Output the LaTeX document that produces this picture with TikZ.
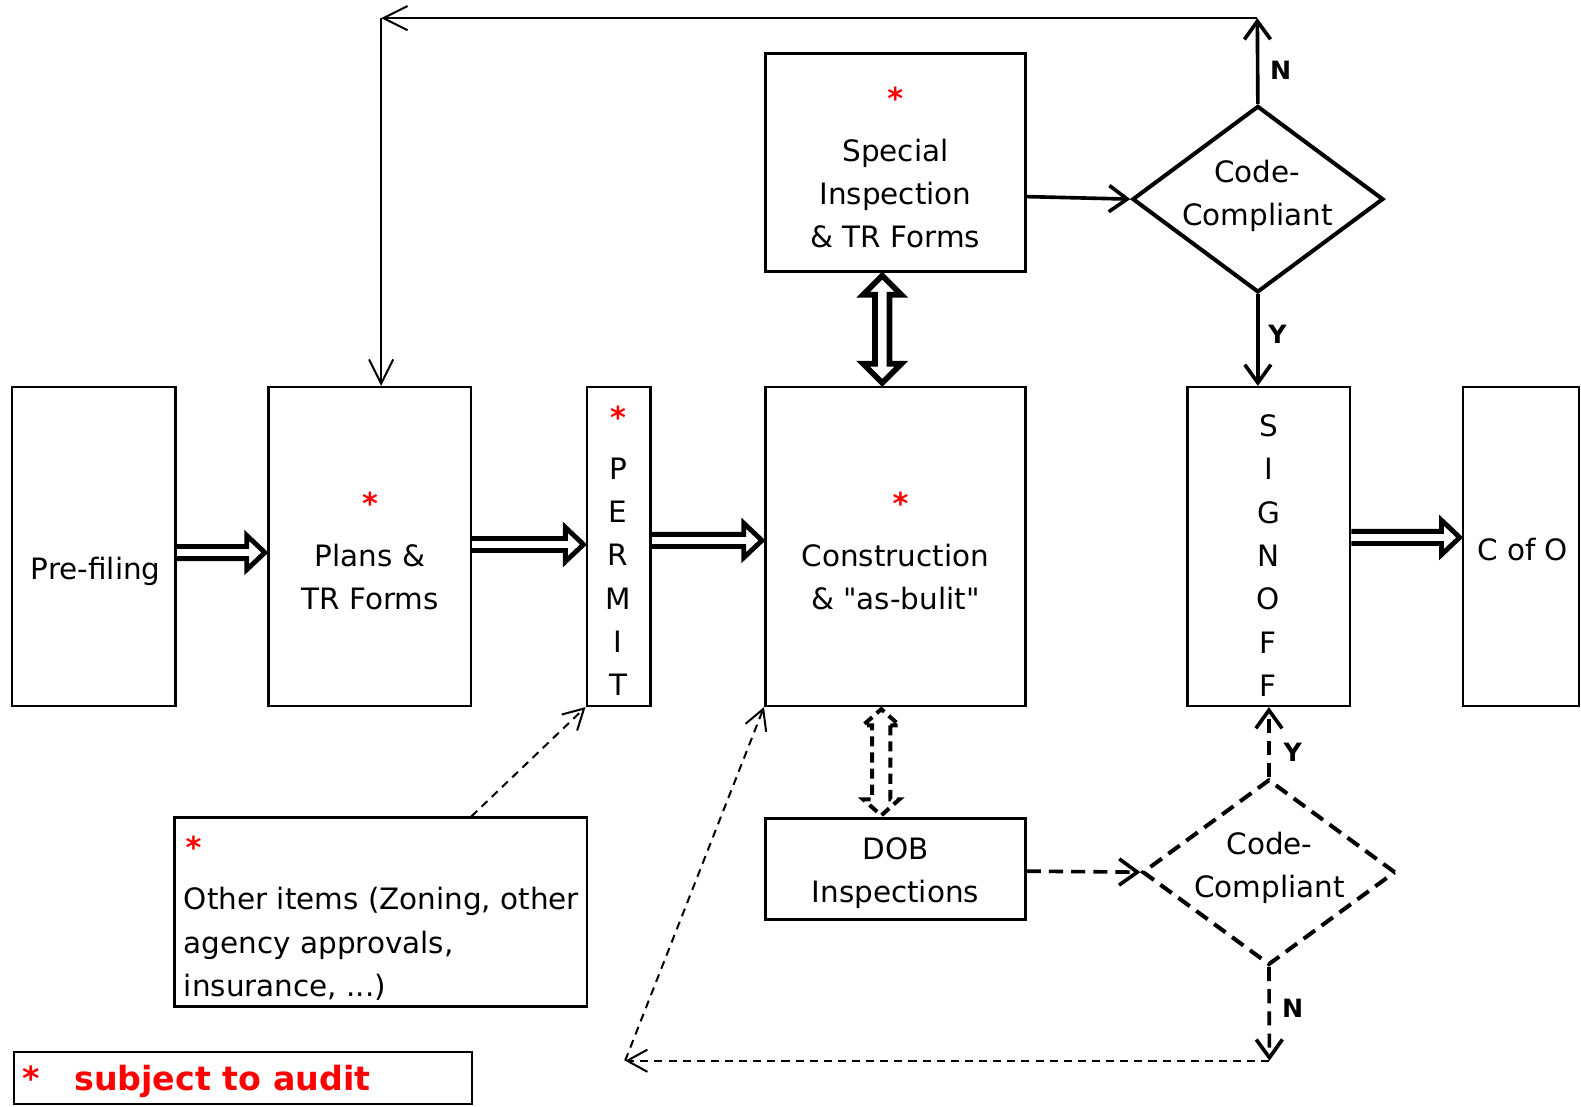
\documentclass[tikz,border=0pt]{standalone}
\usepackage{fontspec}
\setmainfont{DejaVu Sans}
\usetikzlibrary{arrows.meta,shapes.geometric,calc}
\begin{document}
\begin{tikzpicture}[x=0.5pt,y=-0.5pt,
  box/.style={draw, line width=1.3pt, inner sep=0pt},
  txt/.style={font=\fontsize{14.6}{21.5}\selectfont, align=center, inner sep=0pt},
  star/.style={font=\fontsize{15}{15}\selectfont\bfseries, text=red, inner sep=0pt},
  lab/.style={font=\fontsize{12.5}{12.5}\selectfont\bfseries, inner sep=0pt},
  thk/.style={line width=1.8pt, -{Straight Barb[length=9pt,width=13pt]}},
  thn/.style={line width=1pt, -{Straight Barb[length=12pt,width=12pt]}},
  thkdash/.style={line width=1.8pt, dash pattern=on 7pt off 4pt, -{Straight Barb[length=9pt,width=13pt]}},
  thndash/.style={line width=1pt, dash pattern=on 4pt off 3pt, -{Straight Barb[length=10pt,width=11pt]}},
  dia/.style={draw, diamond, inner sep=0pt, line width=2pt},
  bsv/.store in=\bsv, bhv/.store in=\bhv, blv/.store in=\bLv,
  bsv=3pt, bhv=8.5pt, blv=9pt,
  barrow/.style={line join=miter, line width=2.4pt, to path={
    let \p1=(\tikztostart), \p2=(\tikztotarget), \n1={atan2(\y2-\y1,\x2-\x1)} in
    ([shift={(\n1+90:\bsv)}]\p1)
    -- ([shift={(\n1+180:\bLv)},shift={(\n1+90:\bsv)}]\p2)
    -- ([shift={(\n1+180:\bLv)},shift={(\n1+90:\bhv)}]\p2)
    -- (\p2)
    -- ([shift={(\n1+180:\bLv)},shift={(\n1-90:\bhv)}]\p2)
    -- ([shift={(\n1+180:\bLv)},shift={(\n1-90:\bsv)}]\p2)
    -- ([shift={(\n1-90:\bsv)}]\p1)
  }},
  barrowtwo/.style={line join=miter, to path={
    let \p1=(\tikztostart), \p2=(\tikztotarget), \n1={atan2(\y2-\y1,\x2-\x1)} in
    ([shift={(\n1:\bLv)},shift={(\n1+90:\bsv)}]\p1)
    -- ([shift={(\n1+180:\bLv)},shift={(\n1+90:\bsv)}]\p2)
    -- ([shift={(\n1+180:\bLv)},shift={(\n1+90:\bhv)}]\p2)
    -- (\p2)
    -- ([shift={(\n1+180:\bLv)},shift={(\n1-90:\bhv)}]\p2)
    -- ([shift={(\n1+180:\bLv)},shift={(\n1-90:\bsv)}]\p2)
    -- ([shift={(\n1:\bLv)},shift={(\n1-90:\bsv)}]\p1)
    -- ([shift={(\n1:\bLv)},shift={(\n1-90:\bhv)}]\p1)
    -- (\p1)
    -- ([shift={(\n1:\bLv)},shift={(\n1+90:\bhv)}]\p1)
    -- cycle
  }}
]
\useasboundingbox (0,0) rectangle (1568,1097);

% boxes
\node[box, minimum width=81pt, minimum height=158pt] (pre) at (93,542) {};
\node[box, minimum width=100.5pt, minimum height=158pt] (plans) at (366.5,542) {};
\node[box, minimum width=31.5pt, minimum height=158pt] (permit) at (613.5,542) {};
\node[box, minimum width=129pt, minimum height=158pt] (cons) at (888,542) {};
\node[box, minimum width=129pt, minimum height=108pt] (special) at (888,161) {};
\node[box, minimum width=80.5pt, minimum height=158pt] (signoff) at (1258.5,542) {};
\node[box, minimum width=57.5pt, minimum height=158pt] (cofo) at (1508.5,542) {};
\node[box, minimum width=129pt, minimum height=50pt] (dob) at (888,862) {};
\node[box, minimum width=204.5pt, minimum height=93.5pt] (other) at (377.5,904.5) {};
\node[box, line width=1pt, minimum width=227pt, minimum height=26pt] (legend) at (241,1069) {};

% diamonds
\node[dia, minimum width=124.5pt, minimum height=92.5pt] (dT) at (1247.5,197.5) {};
\node[dia, dash pattern=on 7pt off 4pt, minimum width=125.5pt, minimum height=92pt] (dB) at (1258.5,865) {};

% texts
\node[txt] (tpre) at (95,567) {Pre-filing};
\node[star] (splans) at (367,499) {*};
\node[txt] (tplans) at (367,572) {Plans \&\\TR Forms};
\node[star] (spermit) at (613,414) {*};
\node[txt] (tpermit) at (613,572) {P\\E\\R\\M\\I\\T};
\node[star] (scons) at (893,499) {*};
\node[txt] (tcons) at (888,572) {Construction\\\& \textquotedbl as-bulit\textquotedbl};
\node[star] (sspecial) at (888,97) {*};
\node[txt] (tspecial) at (888,192) {Special\\Inspection\\\& TR Forms};
\node[txt] (tdT) at (1247,194) {Code-\\Compliant};
\node[txt] (tsign) at (1258,551) {S\\I\\G\\N\\O\\F\\F};
\node[txt] (tcofo) at (1510,545) {C of O};
\node[txt] (tdob) at (888,866) {DOB\\Inspections};
\node[txt] (tdB) at (1259,861) {Code-\\Compliant};
\node[star] (sother) at (192,840) {*};
\node[txt, align=left, anchor=west] (tother) at (182,936) {Other items (Zoning, other\\agency approvals,\\insurance, ...)};
\node[font=\fontsize{16.5}{16.5}\selectfont\bfseries, text=red, inner sep=0pt, anchor=west] (tlegend) at (22,1073) {*\hspace{17pt}subject to audit};

% labels
\node[lab] (nT) at (1270,70) {N};
\node[lab] (yT) at (1267,332) {Y};
\node[lab] (yB) at (1282,746) {Y};
\node[lab] (nB) at (1282,1000) {N};

% coordinates
\coordinate (topR) at (1247,18);
\coordinate (topL) at (378,18);
\coordinate (botR) at (1259,1052);
\coordinate (botL) at (620,1052);

% block (double) arrows
\draw[barrow] ([yshift=-3pt]pre.east) to ([yshift=-3pt,xshift=-1pt]plans.west);
\draw[barrow] ([yshift=1pt]plans.east) to ([yshift=1pt,xshift=-1pt]permit.west);
\draw[barrow] ([yshift=3pt]permit.east) to ([yshift=3pt,xshift=-1pt]cons.west);
\draw[barrow] ([yshift=4.5pt]signoff.east) to ([yshift=4.5pt,xshift=-1pt]cofo.west);
\draw[barrowtwo, line width=2.8pt, bsv=3.6pt, bhv=9.5pt, blv=9.5pt]
  ([xshift=-6.5pt,yshift=-1.5pt]special.south) to ([xshift=-6.5pt,yshift=1.5pt]cons.north);
\draw[barrowtwo, line width=2pt, dash pattern=on 5pt off 3pt, bsv=4.5pt, bhv=9pt, blv=8pt]
  ([xshift=-7pt,yshift=-1pt]cons.south) to ([xshift=-7pt,yshift=1pt]dob.north);

% solid connectors
\draw[thk] ([yshift=-17pt]special.east) -- (dT.west);
\draw[thk] (dT.north) -- (topR);
\draw[thn] (topR) -- (topL);
\draw[thn] (topL) -- (topL |- plans.north);
\draw[thk] (dT.south) -- (dT.south |- signoff.north);

% dashed connectors
\draw[thkdash] ([yshift=-1pt]dob.east) -- (dB.west);
\draw[thkdash] (dB.north) -- (dB.north |- signoff.south);
\draw[thkdash] (dB.south) -- (botR);
\draw[thndash] (botR) -- (botL);
\draw[thndash] (botL) -- (cons.south west);
\draw[thndash] ([xshift=45pt]other.north) -- (permit.south west);
\end{tikzpicture}
\end{document}
